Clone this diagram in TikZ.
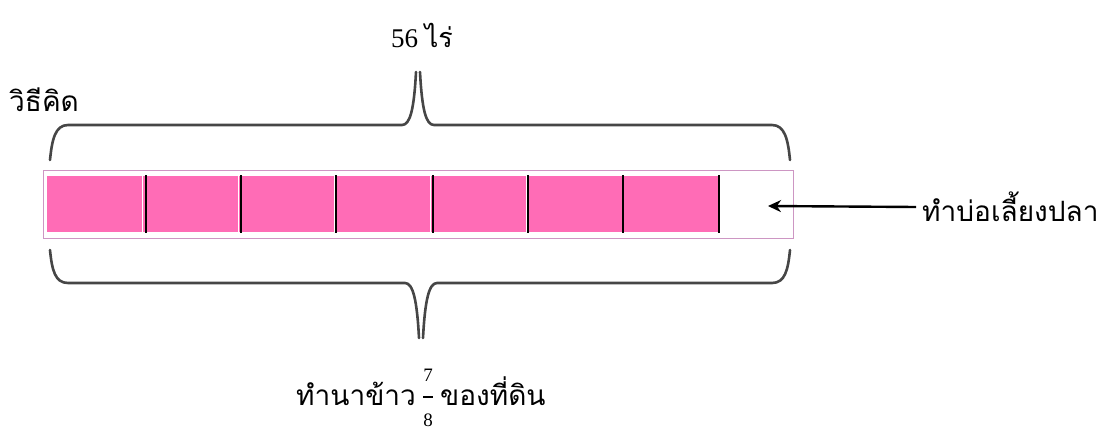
\documentclass[tikz,border=0pt]{standalone}
\usepackage{fontspec}
\setmainfont{Liberation Serif}
\newfontfamily\thai[Script=Thai]{Loma}
\usetikzlibrary{arrows.meta}
\definecolor{cellpink}{RGB}{255,108,182}
\definecolor{framepink}{RGB}{205,150,195}
\definecolor{bracegray}{RGB}{70,70,70}
\tikzset{
  cell/.style={fill=cellpink, draw=none},
  divider/.style={draw=black, line width=1.6pt},
  bracepath/.style={draw=bracegray, line width=2.6pt, line cap=round, line join=round},
  lbl/.style={inner sep=0pt, font=\thai\fontsize{28}{32}\selectfont},
  fracdigit/.style={inner sep=0pt, font=\fontsize{19}{20}\selectfont},
}
\begin{document}
\begin{tikzpicture}[x=1pt,y=-1pt]
\useasboundingbox (0,0) rectangle (1107,431);
% outer frame
\node[draw=framepink, line width=1.2pt, fill=white, minimum width=750pt, minimum height=68pt, inner sep=0pt, anchor=north west] (frame) at (43,170) {};
% cells
\foreach \i in {0,...,6}{
  \fill[cellpink] (47+\i*96,176) rectangle (47+\i*96+95,232);
}
\foreach \x in {146,241,336,433,528,623,719}{
  \draw[divider] (\x,175) -- (\x,233);
}
% top brace
\draw[bracepath] (50,160) .. controls (52,140) and (55,125) .. (68,125) -- (402,125)
  .. controls (410,125) and (414,110) .. (416,72);
\draw[bracepath] (420,72) .. controls (422,110) and (426,125) .. (434,125) -- (772,125)
  .. controls (785,125) and (788,140) .. (790,160);
% bottom brace
\draw[bracepath] (50,250) .. controls (52,270) and (55,283) .. (68,283) -- (405,283)
  .. controls (413,283) and (417,300) .. (419,338);
\draw[bracepath] (423,338) .. controls (425,300) and (429,283) .. (437,283) -- (772,283)
  .. controls (785,283) and (788,270) .. (790,250);
% labels
\node[lbl, anchor=west] (method) at (9,100) {วิธีคิด};
\node[inner sep=0pt, font=\fontsize{27}{30}\selectfont] (total) at (422,36) {56 {\thai ไร่}};
\node[lbl, anchor=west] (pond) at (922,207) {ทำบ่อเลี้ยงปลา};
\coordinate (arrowend) at (768,206);
\draw[-{Stealth[length=13pt,width=12pt]}, line width=2.4pt] (pond.west) ++(-6,0) -- (arrowend);
% bottom label with stacked fraction
\node[lbl, anchor=base east] (riceL) at (416,405) {ทำนาข้าว};
\node[fracdigit] (num) at (428,375) {7};
\node[fracdigit] (den) at (428,420) {8};
\draw[line width=1.3pt] (423,397) -- (433,397);
\node[lbl, anchor=base west] (riceR) at (440,405) {ของที่ดิน};
\end{tikzpicture}
\end{document}
